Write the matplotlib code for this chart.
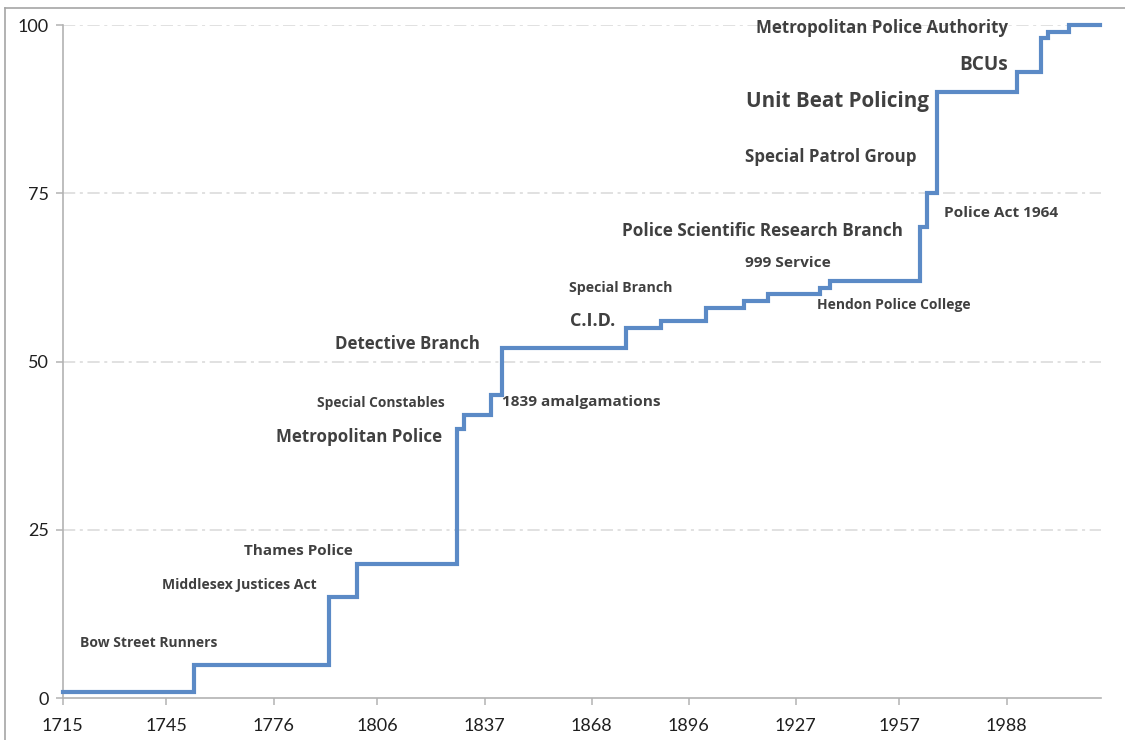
import matplotlib.pyplot as plt
from matplotlib.lines import Line2D

# step data: year the level starts, level reached
years = [1715, 1753, 1792, 1800, 1829, 1831, 1839, 1842, 1878, 1888, 1901,
         1912, 1919, 1934, 1937, 1963, 1965, 1968, 1991, 1998, 2000, 2006, 2015]
levels = [1, 5, 15, 20, 40, 42, 45, 52, 55, 56, 58,
          59, 60, 61, 62, 70, 75, 90, 93, 98, 99, 100, 100]

tick_years = [1715, 1745, 1776, 1806, 1837, 1868, 1896, 1927, 1957, 1988]
y_ticks = [0, 25, 50, 75, 100]

# annotation text, left edge year, vertical position, font size
labels = ["Bow Street Runners", "Middlesex Justices Act", "Thames Police",
          "Metropolitan Police", "Special Constables", "1839 amalgamations",
          "Detective Branch", "Special Branch", "C.I.D.",
          "Police Scientific Research Branch", "999 Service",
          "Hendon Police College", "Special Patrol Group", "Unit Beat Policing",
          "BCUs", "Metropolitan Police Authority", "Police Act 1964"]
label_x = [1720.0, 1743.6, 1767.5, 1776.6, 1788.5, 1842.1, 1793.7, 1861.4,
           1861.7, 1876.7, 1912.3, 1933.2, 1912.3, 1912.5, 1974.2, 1915.4,
           1970.0]
label_y = [8.2, 16.8, 21.9, 38.8, 43.9, 44.05, 52.6, 60.9, 56.0, 69.4, 64.6,
           58.4, 80.4, 88.6, 94.1, 99.5, 72.1]
label_size = [10.0, 10.1, 11.0, 12.2, 9.9, 11.1, 12.2, 10.15, 13.0, 12.3, 11.1,
              10.0, 12.2, 14.9, 13.7, 12.2, 11.1]

fig = plt.figure(figsize=(11.25, 7.4), dpi=100)
ax = fig.add_axes([0.0557, 0.0564, 0.9227, 0.9098])

ax.plot(years, levels, drawstyle="steps-post", color="#5b8ac6", lw=3.0,
        solid_joinstyle="miter", clip_on=False, zorder=3)

ax.set_xlim(1715, 2015.2)
ax.set_ylim(0, 100)
ax.set_xticks(tick_years)
ax.set_xticklabels([str(y) for y in tick_years])
ax.set_yticks(y_ticks)

for v in y_ticks[1:]:
    ax.axhline(v, color="#d9d9d9", lw=1.1, ls=(0, (8, 3, 2, 3)), zorder=1)

for side in ["top", "right"]:
    ax.spines[side].set_visible(False)
for side in ["left", "bottom"]:
    ax.spines[side].set_color("#b3b3b3")
    ax.spines[side].set_linewidth(1.2)

ax.tick_params(axis="both", direction="out", length=5, width=1.1,
               color="#b3b3b3", labelcolor="#1f1f1f", labelsize=13)
ax.tick_params(axis="x", pad=9)
ax.tick_params(axis="y", pad=5)
for t in ax.get_xticklabels() + ax.get_yticklabels():
    t.set_family("Lato")

for txt, x, y, s in zip(labels, label_x, label_y, label_size):
    ax.text(x, y, txt, fontsize=s, fontweight="bold", family="Open Sans",
            color="#404040", ha="left", va="center", zorder=4)

# chart area border (top and left edges visible in the screenshot)
fig.add_artist(Line2D([5 / 1125, 5 / 1125], [0, 1 - 8 / 740],
                      transform=fig.transFigure, color="#a6a6a6", lw=1.2))
fig.add_artist(Line2D([5 / 1125, 1], [1 - 8 / 740, 1 - 8 / 740],
                      transform=fig.transFigure, color="#a6a6a6", lw=1.2))

fig.savefig("out.png", dpi=100)
